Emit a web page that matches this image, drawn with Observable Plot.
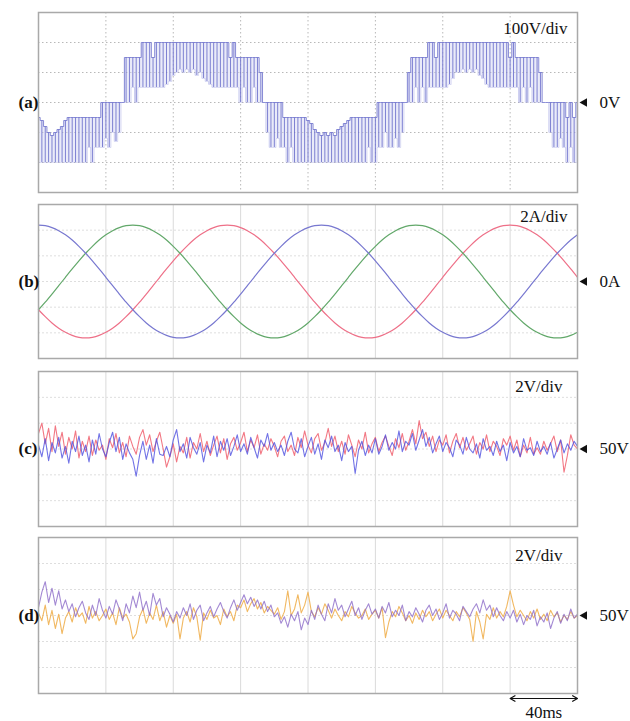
<!DOCTYPE html>
<html><head><meta charset="utf-8">
<script src="https://cdn.jsdelivr.net/npm/d3@7"></script>
<script src="https://cdn.jsdelivr.net/npm/@observablehq/plot@0.6"></script>
<style>
body{margin:0;background:#fff;}
#wrap{position:relative;width:630px;height:721px;overflow:hidden;background:#fff;}
#wrap svg{position:absolute;left:0;}
</style></head><body><div id="wrap"></div>
<script>
// ---------- shared ----------
const timeDomain = [0, 320];          // ms (8 divisions of 40 ms)
const timeTicks = [40, 80, 120, 160, 200, 240, 280];

// ---------- (a) PWM phase voltage, 100 V/div, sampled every 2 ms ----------
const aStepMs = 2;
const aHigh = [
  -50,-60,-80,-100,-110,-100,-90,-80,-60,-50,
  -50,-50,-50,-50,-50,-50,-50,-50,-50,0,
  0,0,0,0,0,0,150,150,150,150,
  150,200,200,200,150,200,200,200,200,200,
  200,200,200,200,200,200,200,200,200,200,
  200,200,200,200,200,200,200,150,200,150,
  150,150,150,150,150,150,100,0,0,0,
  0,0,0,-50,-50,-50,-50,-50,-50,-50,
  -60,-70,-90,-100,-110,-100,-110,-100,-110,-90,
  -80,-70,-60,-50,-50,-50,-50,-50,-50,-50,
  -50,0,0,0,0,0,0,0,0,0,
  100,150,150,150,150,150,200,200,150,200,
  200,200,200,200,200,200,200,200,200,200,
  200,200,200,200,200,200,200,200,200,200,
  150,200,150,150,150,150,150,150,150,100,
  0,0,0,0,0,0,0,-50,0,-50,
  0
];
const aLow = [
  -200,-200,-200,-200,-200,-200,-200,-200,-200,-200,
  -200,-200,-200,-200,-200,-150,-200,-150,-150,-150,
  -120,-150,-100,-130,-100,0,0,0,50,0,
  50,50,50,50,50,50,50,50,60,70,
  90,100,110,100,110,100,110,90,100,80,
  70,60,50,50,50,50,50,50,50,50,
  0,50,0,0,50,0,0,0,-100,-150,
  -150,-120,-150,-150,-200,-150,-200,-200,-200,-200,
  -200,-200,-200,-200,-200,-200,-200,-200,-200,-200,
  -200,-200,-200,-200,-200,-200,-200,-200,-150,-200,
  -200,-150,-150,-100,-150,-150,-120,-150,-100,0,
  0,0,50,0,50,0,50,50,50,50,
  50,50,60,80,100,100,110,100,110,100,
  110,90,80,60,50,50,50,50,50,50,
  50,50,50,0,50,0,50,0,0,0,
  0,0,-100,-150,-150,-120,-150,-200,-150,-200,
  -200
];
const aYDomain = [-300, 300];
const aYTicks = [-200, -100, 0, 100, 200];

// ---------- (b) three phase currents, 2 A/div, sampled every 4 ms ----------
const bStepMs = 4;
const bBlue = [
  4.40,4.35,4.20,3.96,3.64,3.23,2.74,2.20,1.61,0.98,0.33,-0.33,-0.98,-1.61,-2.20,-2.74,-3.23,-3.64,-3.96,-4.20,-4.35,
  -4.40,-4.35,-4.20,-3.96,-3.64,-3.23,-2.74,-2.20,-1.61,-0.98,-0.33,0.33,0.98,1.61,2.20,2.74,3.23,3.64,3.96,4.20,4.35,
  4.40,4.35,4.20,3.96,3.64,3.23,2.74,2.20,1.61,0.98,0.33,-0.33,-0.98,-1.61,-2.20,-2.74,-3.23,-3.64,-3.96,-4.20,-4.35,
  -4.40,-4.35,-4.20,-3.96,-3.64,-3.23,-2.74,-2.20,-1.61,-0.98,-0.33,0.33,0.98,1.61,2.20,2.74,3.23,3.64
];
const bGreen = [
  -2.20,-1.61,-0.98,-0.33,0.33,0.98,1.61,2.20,2.74,3.23,3.64,3.96,4.20,4.35,
  4.40,4.35,4.20,3.96,3.64,3.23,2.74,2.20,1.61,0.98,0.33,-0.33,-0.98,-1.61,-2.20,-2.74,-3.23,-3.64,-3.96,-4.20,-4.35,
  -4.40,-4.35,-4.20,-3.96,-3.64,-3.23,-2.74,-2.20,-1.61,-0.98,-0.33,0.33,0.98,1.61,2.20,2.74,3.23,3.64,3.96,4.20,4.35,
  4.40,4.35,4.20,3.96,3.64,3.23,2.74,2.20,1.61,0.98,0.33,-0.33,-0.98,-1.61,-2.20,-2.74,-3.23,-3.64,-3.96,-4.20,-4.35,
  -4.40,-4.35,-4.20,-3.96
];
const bRed = [
  -2.20,-2.74,-3.23,-3.64,-3.96,-4.20,-4.35,-4.40,-4.35,-4.20,-3.96,-3.64,-3.23,-2.74,
  -2.20,-1.61,-0.98,-0.33,0.33,0.98,1.61,2.20,2.74,3.23,3.64,3.96,4.20,4.35,
  4.40,4.35,4.20,3.96,3.64,3.23,2.74,2.20,1.61,0.98,0.33,-0.33,-0.98,-1.61,-2.20,-2.74,-3.23,-3.64,-3.96,-4.20,-4.35,
  -4.40,-4.35,-4.20,-3.96,-3.64,-3.23,-2.74,-2.20,-1.61,-0.98,-0.33,0.33,0.98,1.61,2.20,2.74,3.23,3.64,3.96,4.20,4.35,
  4.40,4.35,4.20,3.96,3.64,3.23,2.74,2.20,1.61,0.98,0.33
];
const bYDomain = [-6, 6];
const bYTicks = [-4, -2, 0, 2, 4];

// ---------- (c) capacitor voltages, 2 V/div, sampled every 2 ms ----------
const noiseStepMs = 2;
const cRed = [
  51.2,52.0,50.4,51.6,49.8,51.8,50.2,51.3,49.6,50.9,
  50.0,51.4,49.3,50.6,49.8,51.0,49.5,50.7,49.9,50.3,
  49.2,50.8,50.1,51.2,49.7,50.5,49.4,51.0,50.2,49.6,
  50.9,51.5,50.3,51.1,49.8,50.6,51.3,50.0,48.6,49.4,
  50.4,49.0,50.2,49.7,50.9,49.3,50.5,50.0,51.2,49.8,
  50.6,49.5,50.3,51.0,49.7,50.8,49.2,50.4,50.9,49.9,
  50.5,51.3,49.8,50.7,50.1,51.1,49.6,50.4,49.9,50.8,
  50.2,49.4,50.6,51.0,49.8,50.3,49.5,50.9,50.1,51.4,
  50.3,49.7,50.8,51.2,49.9,50.5,51.6,50.2,51.0,49.8,
  50.6,49.6,51.1,50.3,49.4,50.7,50.0,51.3,49.7,50.4,
  50.9,49.8,50.5,51.0,50.2,49.5,50.8,50.1,51.2,49.9,
  50.6,51.5,50.4,52.2,50.8,51.3,50.2,51.0,49.8,50.7,
  50.3,51.1,49.7,50.6,51.2,50.1,50.9,49.9,50.4,51.0,
  49.6,50.5,50.0,51.1,49.8,50.6,50.2,49.5,50.8,50.3,
  51.0,49.9,50.7,49.4,50.3,49.7,50.9,49.6,50.1,49.6,
  50.6,49.9,50.4,51.0,49.8,50.7,48.2,49.5,51.1,50.3,
  50.0
];
const cBlue = [
  50.3,49.4,50.8,49.1,50.5,49.7,50.9,49.3,50.2,48.9,
  50.6,49.8,51.0,49.5,50.3,49.0,50.7,49.6,51.2,50.0,
  49.4,50.5,51.3,49.8,50.9,49.2,50.4,49.7,49.2,47.9,
  49.5,50.6,49.2,50.3,48.9,50.8,49.6,49.5,50.2,49.4,
  50.7,51.5,49.8,50.4,49.3,50.9,50.1,49.6,50.5,49.0,
  50.3,49.7,51.0,49.4,50.6,49.9,50.8,49.5,50.2,51.1,
  49.8,50.4,49.6,50.9,50.1,49.3,50.7,50.2,51.2,49.9,
  50.5,49.8,50.3,49.5,50.6,51.3,50.0,49.7,50.8,49.4,
  50.2,50.9,49.6,50.4,49.2,50.7,50.1,51.0,49.8,50.3,
  49.1,50.5,49.8,50.2,48.1,49.9,50.6,49.5,50.3,49.7,
  50.8,49.6,50.2,51.1,49.9,50.5,50.0,51.4,49.8,50.6,
  50.3,51.2,49.9,50.7,51.5,50.2,50.9,49.7,50.4,51.0,
  49.8,50.5,50.1,49.4,50.7,50.3,49.6,50.9,50.0,49.7,
  50.4,49.3,50.8,49.9,50.2,49.5,50.6,49.8,50.3,49.1,
  50.5,49.7,50.2,49.4,50.8,49.9,50.1,49.5,50.6,49.8,
  50.2,49.6,50.5,49.3,50.0,50.7,49.7,50.4,49.9,50.6,
  50.2
];
// ---------- (d) capacitor voltages, 2 V/div, sampled every 2 ms ----------
const dPurple = [
  50.6,51.8,52.6,51.0,52.1,50.8,51.9,50.5,51.2,50.3,
  50.9,49.9,50.6,51.1,50.2,49.7,50.8,50.0,51.3,50.4,
  49.8,50.7,50.1,51.2,50.5,49.6,50.9,50.2,51.5,50.6,
  51.8,50.4,51.1,50.0,51.7,50.8,51.3,49.9,50.6,50.1,
  49.5,50.3,49.8,50.6,50.0,50.9,49.7,50.4,50.8,49.6,
  50.2,50.7,49.9,50.5,51.0,50.3,49.8,50.6,51.2,50.4,
  51.0,51.6,50.9,51.4,50.7,51.2,50.5,51.1,50.3,50.8,
  49.9,50.2,49.4,49.9,49.1,50.1,49.6,50.3,48.9,49.8,
  49.3,50.4,49.7,50.8,50.1,49.6,50.9,50.2,51.3,50.4,
  50.8,49.9,50.5,51.1,50.0,50.6,49.7,50.4,50.9,50.1,
  50.5,49.8,50.7,50.2,51.0,49.9,50.4,50.0,50.8,49.6,
  50.3,49.9,50.6,50.1,49.5,50.4,50.8,50.0,50.5,49.7,
  50.2,50.9,49.8,50.4,50.1,49.6,50.7,50.3,49.9,50.5,
  50.9,50.2,51.2,50.4,50.8,49.9,50.6,50.0,49.6,50.3,
  49.8,50.4,49.5,50.1,49.3,50.0,49.7,50.4,49.2,49.9,
  49.5,50.2,49.0,49.8,50.3,49.4,50.1,49.6,50.5,49.8,
  50.1
];
const dOrange = [
  50.2,49.6,50.8,49.3,50.4,49.0,50.1,48.6,49.8,50.3,
  49.5,50.6,49.9,50.2,49.4,50.7,49.8,50.3,49.6,50.0,
  50.5,49.7,50.2,49.3,50.6,49.8,50.1,49.5,48.2,48.6,
  49.9,50.5,49.4,50.2,49.7,50.8,49.6,50.3,49.1,50.0,
  49.4,50.1,48.2,49.8,50.3,49.5,50.6,49.9,48.1,50.2,
  49.7,50.4,49.8,50.0,49.3,50.5,49.9,50.3,49.6,50.8,
  50.6,51.2,50.3,50.9,51.3,50.5,51.0,50.2,50.7,50.4,
  50.1,50.6,49.7,50.3,51.9,50.0,50.5,51.6,50.2,50.8,
  51.8,50.3,49.9,50.6,50.1,50.9,50.4,49.8,50.5,50.0,
  49.6,50.3,49.9,50.7,50.2,49.8,50.0,50.5,49.7,50.1,
  50.4,49.8,50.6,48.3,49.5,50.3,49.9,50.7,50.2,49.6,
  50.0,49.4,50.2,49.7,50.4,49.9,50.3,49.6,50.1,50.5,
  49.8,50.4,50.0,49.6,50.3,49.9,50.6,50.2,49.7,48.0,
  50.3,49.5,48.2,50.1,49.7,50.6,49.8,50.3,49.9,50.7,
  51.9,50.8,49.9,50.4,50.0,49.6,50.3,49.8,50.5,49.7,
  50.1,49.6,50.4,49.9,50.2,49.5,50.0,49.7,50.3,49.8,
  50.0
];
const vYDomain = [44, 56];
const vYTicks = [46, 48, 50, 52, 54];
const scaleBar = [{from: 280, to: 320, label: "40ms"}];

// ---------- build tables ----------
const aTable = aHigh.map((hi, i) => ({t: i * aStepMs, hi, lo: aLow[i]}));
const series = (vals, step) => vals.map((v, i) => ({t: i * step, v}));

const serif = "'Liberation Serif', 'DejaVu Serif', serif";
const wrap = document.getElementById("wrap");

function trace(vals, step, color, width, opacity, curve = "linear") {
  return Plot.line(series(vals, step), {x: "t", y: "v", stroke: color, strokeWidth: width, strokeOpacity: opacity, curve});
}

function panel({top, height, mTop, mBottom, yDomain, yTicks, dotted, marks, label, zeroLabel, divLabel, divDx, divDy, extra = []}) {
  const grid = dotted
    ? [Plot.ruleX(timeTicks, {stroke: "#b8b8b8", strokeDasharray: "1.5,2.5"}),
       Plot.ruleY(yTicks, {stroke: "#b8b8b8", strokeDasharray: "1.5,2.5"})]
    : [Plot.ruleX(timeTicks, {stroke: "#dadada"}),
       Plot.ruleY(yTicks, {stroke: "#dedede", strokeDasharray: "2,2"})];
  const svg = Plot.plot({
    width: 630, height,
    marginLeft: 38, marginRight: 53, marginTop: mTop, marginBottom: mBottom,
    x: {domain: timeDomain, axis: null},
    y: {domain: yDomain, axis: null},
    style: {background: "transparent", overflow: "visible"},
    marks: [
      ...grid,
      ...marks,
      Plot.frame({stroke: "#a9a9a9", strokeWidth: 1.5}),
      Plot.text([label], {frameAnchor: "left", dx: -20, text: d => d, fontFamily: serif, fontWeight: "bold", fontSize: 17, fill: "#111"}),
      Plot.dot([0], {frameAnchor: "right", dx: 7, symbol: "triangle", rotate: -90, r: 3.2, fill: "#111", stroke: "none"}),
      Plot.text([zeroLabel], {frameAnchor: "right", dx: 22, text: d => d, textAnchor: "start", fontFamily: serif, fontSize: 17, fill: "#111"}),
      Plot.text([divLabel], {frameAnchor: "top-right", dx: divDx, dy: divDy, lineAnchor: "middle", text: d => d, textAnchor: "end", fontFamily: serif, fontSize: 17, fill: "#111"}),
      ...extra
    ]
  });
  svg.style.top = top + "px";
  wrap.append(svg);
}

// (a)
panel({
  top: 0, height: 200, mTop: 12, mBottom: 8, yDomain: aYDomain, yTicks: aYTicks, dotted: true,
  label: "(a)", zeroLabel: "0V", divLabel: "100V/div", divDx: -10, divDy: 16,
  marks: [
    Plot.areaY(aTable, {x: "t", y1: "lo", y2: "hi", curve: "step", fill: "#d6d7f4", fillOpacity: 0.5}),
    Plot.ruleX(aTable, {x: "t", y1: "lo", y2: "hi", stroke: "#5a5ec4", strokeWidth: 1, strokeOpacity: 0.75}),
    Plot.lineY(aTable, {x: "t", y: "hi", curve: "step", stroke: "#7a7ed0", strokeWidth: 0.9}),
    Plot.lineY(aTable, {x: "t", y: "lo", curve: "step", stroke: "#9a9ee0", strokeWidth: 0.6, strokeOpacity: 0.6})
  ]
});

// (b)
panel({
  top: 195, height: 170, mTop: 9, mBottom: 7, yDomain: bYDomain, yTicks: bYTicks, dotted: false,
  label: "(b)", zeroLabel: "0A", divLabel: "2A/div", divDx: -10, divDy: 12,
  marks: [
    trace(bRed, bStepMs, "#ee7088", 1.2, 1, "catmull-rom"),
    trace(bGreen, bStepMs, "#62a86a", 1.2, 1, "catmull-rom"),
    trace(bBlue, bStepMs, "#7878d0", 1.2, 1, "catmull-rom")
  ]
});

// (c)
panel({
  top: 362, height: 170, mTop: 9, mBottom: 6, yDomain: vYDomain, yTicks: vYTicks, dotted: false,
  label: "(c)", zeroLabel: "50V", divLabel: "2V/div", divDx: -15, divDy: 15,
  marks: [
    trace(cRed, noiseStepMs, "#f0606e", 1.1, 0.85),
    trace(cBlue, noiseStepMs, "#4f50e0", 1.1, 0.8)
  ]
});

// (d)
panel({
  top: 528, height: 193, mTop: 9, mBottom: 28, yDomain: vYDomain, yTicks: vYTicks, dotted: false,
  label: "(d)", zeroLabel: "50V", divLabel: "2V/div", divDx: -15, divDy: 18,
  marks: [
    trace(dOrange, noiseStepMs, "#f0b050", 1.1, 0.9),
    trace(dPurple, noiseStepMs, "#8c6cc8", 1.1, 0.8)
  ],
  extra: [
    Plot.arrow(scaleBar, {x1: d => (d.from + d.to) / 2, x2: "from", y1: vYDomain[0], y2: vYDomain[0], dy: 5, stroke: "#111", strokeWidth: 1.2, headLength: 7}),
    Plot.arrow(scaleBar, {x1: d => (d.from + d.to) / 2, x2: "to", y1: vYDomain[0], y2: vYDomain[0], dy: 5, stroke: "#111", strokeWidth: 1.2, headLength: 7}),
    Plot.text(scaleBar, {x: d => (d.from + d.to) / 2, frameAnchor: "bottom", dy: 19, lineAnchor: "middle", text: "label", fontFamily: serif, fontSize: 17, fill: "#111"})
  ]
});
</script>
</body></html>
